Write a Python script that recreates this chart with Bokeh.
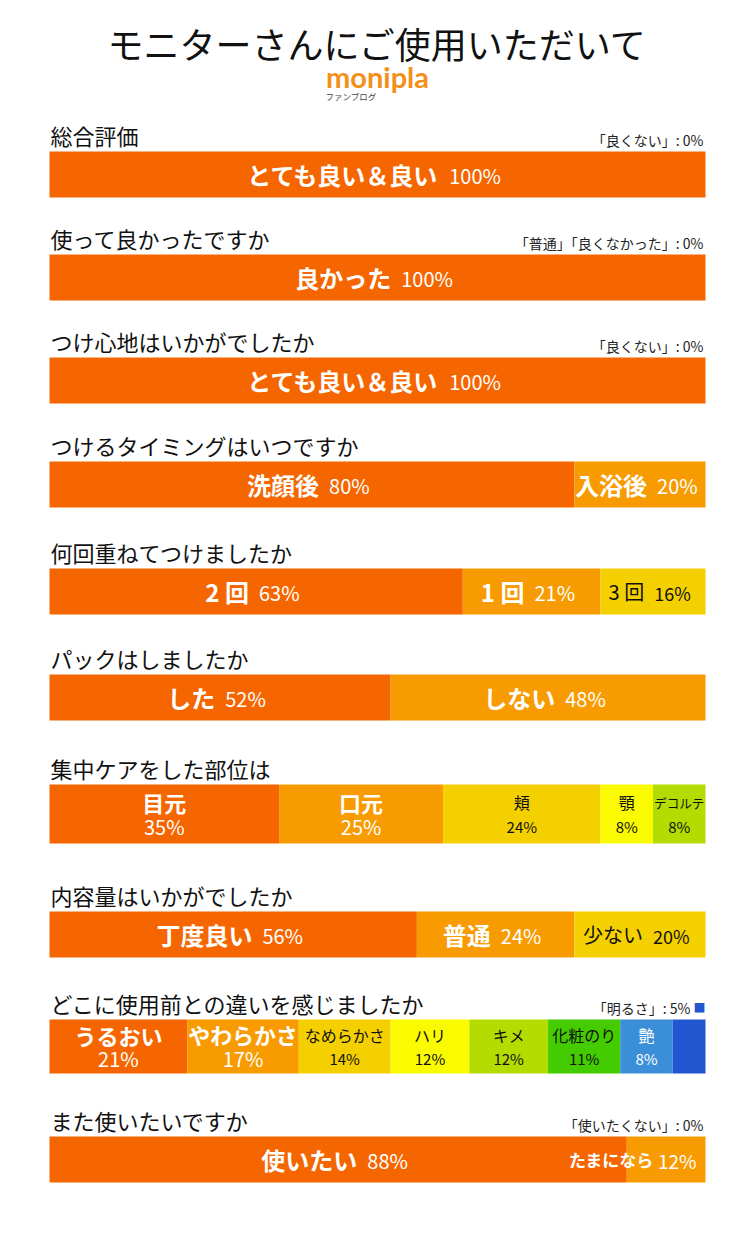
from bokeh.plotting import figure
from bokeh.models import Range1d
from bokeh.core.properties import value
from bokeh.embed import file_html
from bokeh.resources import INLINE

# ---------------- data ----------------
title_text = "モニターさんにご使用いただいて"
logo_text = "monipla"
logo_sub = "ファンブログ"

questions = [
    "総合評価",
    "使って良かったですか",
    "つけ心地はいかがでしたか",
    "つけるタイミングはいつですか",
    "何回重ねてつけましたか",
    "パックはしましたか",
    "集中ケアをした部位は",
    "内容量はいかがでしたか",
    "どこに使用前との違いを感じましたか",
    "また使いたいですか",
]
notes = [
    "「良くない」: 0%",
    "「普通」「良くなかった」: 0%",
    "「良くない」: 0%",
    "", "", "", "", "",
    "「明るさ」: 5%",
    "「使いたくない」: 0%",
]

cats_overall = ["とても良い＆良い"]
vals_overall = [100]
cats_good = ["良かった"]
vals_good = [100]
cats_feel = ["とても良い＆良い"]
vals_feel = [100]
cats_timing = ["洗顔後", "入浴後"]
vals_timing = [80, 20]
cats_layers = ["2 回", "1 回", "3 回"]
vals_layers = [63, 21, 16]
cats_pack = ["した", "しない"]
vals_pack = [52, 48]
cats_area = ["目元", "口元", "頬", "顎", "デコルテ"]
vals_area = [35, 25, 24, 8, 8]
cats_amount = ["丁度良い", "普通", "少ない"]
vals_amount = [56, 24, 20]
cats_diff = ["うるおい", "やわらかさ", "なめらかさ", "ハリ", "キメ", "化粧のり", "艶", "明るさ"]
vals_diff = [21, 17, 14, 12, 12, 11, 8, 5]
cats_again = ["使いたい", "たまになら"]
vals_again = [88, 12]

all_cats = [cats_overall, cats_good, cats_feel, cats_timing, cats_layers,
            cats_pack, cats_area, cats_amount, cats_diff, cats_again]
all_vals = [vals_overall, vals_good, vals_feel, vals_timing, vals_layers,
            vals_pack, vals_area, vals_amount, vals_diff, vals_again]

palette = ["#F56600", "#F79B00", "#F5D000", "#FAFA00", "#B5DC00",
           "#44CC00", "#3A8FD8", "#2255D0"]

# ---------------- layout ----------------
bar_tops = [151, 254, 357, 461, 568, 674, 784, 911, 1019, 1136]
bar_heights = [46, 46, 46, 46, 46, 46, 59, 46, 54, 46]
two_line = [False, False, False, False, False, False, True, False, True, False]
PX = 6.56  # pixels per percent
FONT = "Noto Sans CJK JP"

W, H = 739, 1228
p = figure(width=W, height=H, output_backend="svg", toolbar_location=None,
           x_range=Range1d(-49 / PX, (W - 49) / PX), y_range=Range1d(H, 0),
           min_border=0)
p.axis.visible = False
p.grid.visible = False
p.outline_line_color = None
p.background_fill_color = "white"
p.border_fill_color = "white"


def txt(x, y, s, size, color="#111111", bold=False, align="left",
        xo=0, baseline="middle", font=FONT):
    p.text(x=[x], y=[y], text=[s], text_font=value(font),
           text_font_size=value(f"{size}px"), text_color=color,
           text_font_style="bold" if bold else "normal",
           text_align=align, text_baseline=baseline, x_offset=xo)


def tw(s, fs):
    w = 0.0
    for ch in s:
        if ord(ch) < 128:
            if ch.isdigit():
                w += 0.55 * fs
            elif ch == "%":
                w += 0.88 * fs
            elif ch == " ":
                w += 0.25 * fs
            else:
                w += 0.6 * fs
        else:
            w += fs
    return w


# title and logo
txt(50, 42, title_text, 36, "#111111", align="center")
txt(50, 76, logo_text, 29, "#F39019", bold=True, align="center", font="Lato")
txt(50, 95, logo_sub, 8.5, "#444444", align="left", xo=-52)

for r in range(len(questions)):
    top = bar_tops[r]
    h = bar_heights[r]
    yc = top + h / 2
    cats = all_cats[r]
    vals = all_vals[r]
    lefts, rights = [], []
    acc = 0
    for v in vals:
        lefts.append(acc)
        acc += v
        rights.append(acc)
    cols = [palette[i] for i in range(len(vals))]
    p.hbar(y=[yc] * len(vals), left=lefts, right=rights, height=h,
           fill_color=cols, line_color=None)

    # question label and note
    txt(0, top - 17, questions[r], 22, "#111111", xo=1)
    if notes[r]:
        if r == 8:
            txt(100, top - 12, notes[r], 14, "#222222", align="right", xo=-15)
            txt(100, top - 12, "■", 12, palette[7], align="right", xo=0)
        else:
            txt(100, top - 12, notes[r], 14, "#222222", align="right", xo=-2)

    for i, (c, v) in enumerate(zip(cats, vals)):
        seg_c = (lefts[i] + rights[i]) / 2
        sw = v * PX
        col = "#FFFFFF" if i in (0, 1, 6, 7) else "#111111"
        bold = i < 2
        pct = f"{v}%"
        if two_line[r]:
            if sw < 40:
                continue
            fs = 22 if bold else 16
            fs = min(fs, (sw - 2) / len(c))
            pfs = 20 if bold else 15
            txt(seg_c, yc - 12, c, round(fs, 1), col, bold=bold, align="center")
            txt(seg_c, yc + 12, pct, pfs, col, align="center")
        else:
            fs = 24 if bold else 20
            pfs = 20 if bold else 18
            gap = 10
            lw = tw(c, fs)
            pw = tw(pct, pfs)
            tot = lw + gap + pw
            if tot > sw:
                fs = 17
                pfs = 19
                pw = tw(pct, pfs)
                txt(rights[i], yc + 1, pct, pfs, col, align="right", xo=-9)
                txt(rights[i], yc, c, fs, col, bold=bold, align="right",
                    xo=-9 - pw - 5)
            else:
                txt(seg_c, yc, c, fs, col, bold=bold, align="right",
                    xo=-tot / 2 + lw - 4)
                txt(seg_c, yc + 1, pct, pfs, col, align="left",
                    xo=-tot / 2 + lw + gap - 4)

open("out.html", "w").write(file_html(p, INLINE))
